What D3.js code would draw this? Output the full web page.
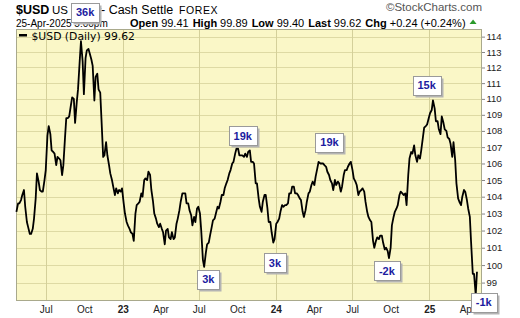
<!DOCTYPE html>
<html><head><meta charset="utf-8">
<script src="https://cdn.jsdelivr.net/npm/d3@7"></script>
<style>body{margin:0;background:#fff;}svg{display:block;}</style>
</head><body>
<svg id="chart" width="520" height="318"></svg>
<script>
// ---------- DATA ----------
const dates = [
"2022-04-22","2022-04-26","2022-04-29",
"2022-05-03","2022-05-06","2022-05-10","2022-05-13","2022-05-17","2022-05-20","2022-05-24","2022-05-27","2022-05-31",
"2022-06-03","2022-06-07","2022-06-10","2022-06-14","2022-06-17","2022-06-21","2022-06-24","2022-06-28",
"2022-07-01","2022-07-05","2022-07-08","2022-07-12","2022-07-15","2022-07-19","2022-07-22","2022-07-26","2022-07-29",
"2022-08-02","2022-08-05","2022-08-09","2022-08-12","2022-08-16","2022-08-19","2022-08-23","2022-08-26","2022-08-30",
"2022-09-02","2022-09-06","2022-09-09","2022-09-13","2022-09-16","2022-09-20","2022-09-23","2022-09-27","2022-09-30",
"2022-10-04","2022-10-07","2022-10-11","2022-10-14","2022-10-18","2022-10-21","2022-10-25","2022-10-28",
"2022-11-01","2022-11-04","2022-11-08","2022-11-11","2022-11-15","2022-11-18","2022-11-22","2022-11-25","2022-11-29",
"2022-12-02","2022-12-06","2022-12-09","2022-12-13","2022-12-16","2022-12-20","2022-12-23","2022-12-27","2022-12-30",
"2023-01-03","2023-01-06","2023-01-10","2023-01-13","2023-01-17","2023-01-20","2023-01-24","2023-01-27","2023-01-31",
"2023-02-03","2023-02-07","2023-02-10","2023-02-14","2023-02-17","2023-02-21","2023-02-24","2023-02-28",
"2023-03-03","2023-03-07","2023-03-10","2023-03-14","2023-03-17","2023-03-21","2023-03-24","2023-03-28","2023-03-31",
"2023-04-04","2023-04-07","2023-04-11","2023-04-14","2023-04-18","2023-04-21","2023-04-25","2023-04-28",
"2023-05-02","2023-05-05","2023-05-09","2023-05-12","2023-05-16","2023-05-19","2023-05-23","2023-05-26","2023-05-30",
"2023-06-02","2023-06-06","2023-06-09","2023-06-13","2023-06-16","2023-06-20","2023-06-23","2023-06-27","2023-06-30",
"2023-07-04","2023-07-07","2023-07-11","2023-07-14","2023-07-18","2023-07-21","2023-07-25","2023-07-28",
"2023-08-01","2023-08-04","2023-08-08","2023-08-11","2023-08-15","2023-08-18","2023-08-22","2023-08-25","2023-08-29",
"2023-09-01","2023-09-05","2023-09-08","2023-09-12","2023-09-15","2023-09-19","2023-09-22","2023-09-26","2023-09-29",
"2023-10-03","2023-10-06","2023-10-10","2023-10-13","2023-10-17","2023-10-20","2023-10-24","2023-10-27","2023-10-31",
"2023-11-03","2023-11-07","2023-11-10","2023-11-14","2023-11-17","2023-11-21","2023-11-24","2023-11-28",
"2023-12-01","2023-12-05","2023-12-08","2023-12-12","2023-12-15","2023-12-19","2023-12-22","2023-12-26","2023-12-29",
"2024-01-02","2024-01-05","2024-01-09","2024-01-12","2024-01-16","2024-01-19","2024-01-23","2024-01-26","2024-01-30",
"2024-02-02","2024-02-06","2024-02-09","2024-02-13","2024-02-16","2024-02-20","2024-02-23","2024-02-27",
"2024-03-01","2024-03-05","2024-03-08","2024-03-12","2024-03-15","2024-03-19","2024-03-22","2024-03-26","2024-03-29",
"2024-04-02","2024-04-05","2024-04-09","2024-04-12","2024-04-16","2024-04-19","2024-04-23","2024-04-26","2024-04-30",
"2024-05-03","2024-05-07","2024-05-10","2024-05-14","2024-05-17","2024-05-21","2024-05-24","2024-05-28","2024-05-31",
"2024-06-04","2024-06-07","2024-06-11","2024-06-14","2024-06-18","2024-06-21","2024-06-25","2024-06-28",
"2024-07-02","2024-07-05","2024-07-09","2024-07-12","2024-07-16","2024-07-19","2024-07-23","2024-07-26","2024-07-30",
"2024-08-02","2024-08-06","2024-08-09","2024-08-13","2024-08-16","2024-08-20","2024-08-23","2024-08-27","2024-08-30",
"2024-09-03","2024-09-06","2024-09-10","2024-09-13","2024-09-17","2024-09-20","2024-09-24","2024-09-27",
"2024-10-01","2024-10-04","2024-10-08","2024-10-11","2024-10-15","2024-10-18","2024-10-22","2024-10-25","2024-10-29",
"2024-11-01","2024-11-05","2024-11-08","2024-11-12","2024-11-15","2024-11-19","2024-11-22","2024-11-26","2024-11-29",
"2024-12-03","2024-12-06","2024-12-10","2024-12-13","2024-12-17","2024-12-20","2024-12-24","2024-12-27","2024-12-31",
"2025-01-03","2025-01-07","2025-01-10","2025-01-14","2025-01-17","2025-01-21","2025-01-24","2025-01-28","2025-01-31",
"2025-02-04","2025-02-07","2025-02-11","2025-02-14","2025-02-18","2025-02-21","2025-02-25","2025-02-28",
"2025-03-04","2025-03-07","2025-03-11","2025-03-14","2025-03-18","2025-03-21","2025-03-25","2025-03-28",
"2025-04-01","2025-04-04","2025-04-08","2025-04-11","2025-04-15","2025-04-18","2025-04-22","2025-04-25"
];
const closes = [
103.1,103.6,103.6,
103.8,104.1,104.4,103.4,102.5,102.2,101.8,101.8,102.1,
102.7,103.9,105.4,104.9,104.4,104.3,104.3,105.0,
105.6,107.7,108.3,107.8,106.8,106.7,106.6,105.9,106.4,
106.3,106.2,105.3,105.9,107.6,108.8,108.8,108.9,109.6,
110.1,110.0,108.5,109.8,110.6,112.4,113.7,112.4,110.3,
112.6,113.1,113.2,112.9,112.5,112.1,109.9,111.4,
111.6,110.6,110.4,108.7,106.4,106.5,107.3,106.5,105.9,
105.4,105.0,104.6,104.1,104.5,104.2,104.4,104.3,104.5,
103.6,103.0,102.5,102.3,102.1,101.9,101.8,101.4,103.0,
103.5,103.6,103.7,104.2,104.0,105.0,105.1,105.0,
105.5,105.3,104.4,103.7,103.0,102.7,102.4,102.2,102.4,
102.1,101.9,101.2,102.0,102.1,101.6,101.5,101.9,
101.5,101.6,102.4,102.7,103.2,103.7,104.2,104.2,104.2,
103.6,103.6,103.2,102.9,102.3,102.8,102.5,103.3,103.4,
103.0,102.0,100.3,99.9,100.7,101.2,101.3,101.7,
102.2,102.6,102.7,103.0,103.4,103.3,103.7,104.1,104.1,
104.5,104.8,105.0,105.4,105.6,106.0,106.1,106.6,106.9,
106.9,106.5,106.5,106.5,106.4,106.6,106.4,106.7,106.8,
106.1,106.1,106.0,104.8,104.8,103.9,103.4,103.1,
103.7,104.1,104.1,103.3,102.5,102.5,101.9,101.3,101.5,
102.4,102.5,102.7,103.1,103.5,103.4,103.5,103.5,103.6,
104.2,104.2,104.6,104.6,104.2,104.2,104.1,103.9,
103.8,103.1,102.8,103.2,103.7,104.2,104.3,104.7,104.9,
104.7,105.2,105.7,106.1,106.0,106.0,106.0,105.9,105.8,
105.5,105.3,105.0,104.8,104.4,105.0,104.7,104.9,104.8,
104.3,104.6,105.3,105.6,105.6,105.8,106.0,106.1,
105.6,105.1,104.9,104.7,104.1,104.3,104.4,104.5,104.3,
103.7,103.1,102.8,102.6,102.5,101.4,101.0,101.4,101.6,
101.5,101.7,101.7,101.3,100.9,101.0,100.8,100.4,
101.0,102.3,102.8,103.1,103.3,103.5,104.1,104.3,104.2,
104.1,104.2,103.5,105.3,106.3,106.7,106.6,107.1,106.5,
106.1,106.5,106.3,106.8,107.6,108.2,108.3,108.4,108.8,
109.1,109.3,109.9,109.4,108.6,108.6,108.1,107.8,108.9,
108.5,108.1,108.0,107.6,107.5,107.2,106.4,107.3,
106.2,104.8,103.9,103.7,103.5,104.0,104.4,104.3,
103.8,103.3,102.8,101.3,99.5,99.5,98.3,99.62
];
const priceTicks = [98,99,100,101,102,103,104,105,106,107,108,109,110,111,112,113,114];
const monthTickDates = ["2022-07-01","2022-10-01","2023-01-01","2023-04-01","2023-07-01","2023-10-01",
                        "2024-01-01","2024-04-01","2024-07-01","2024-10-01","2025-01-01","2025-04-01"];
const monthTickLabels = ["Jul","Oct","23","Apr","Jul","Oct","24","Apr","Jul","Oct","25","Apr"];
const gridDates = ["2022-07-01","2023-01-01","2023-07-01","2024-01-01","2024-07-01","2025-01-01"];
const annDates  = ["2022-10-03","2023-10-14","2023-07-24","2023-12-30","2024-05-08","2024-09-22","2024-12-26","2025-05-11"];
const annLevels = [115.6,107.7,99.18,100.13,107.3,99.67,110.87,97.9];
const annLabels = ["36k","19k","3k","3k","19k","-2k","15k","-1k"];
const headerValues = {open:"99.41", high:"99.89", low:"99.40", last:"99.62", chg:"+0.24", pct:"(+0.24%)"};

// ---------- LAYOUT ----------
const W = 520, H = 318;
const L = 16, R = 482, T = 29, B = 301;
const parse = d3.utcParse("%Y-%m-%d");
const svg = d3.select("#chart");
const F = "'Liberation Sans', Arial, Helvetica, sans-serif";

const x = d3.scaleUtc().domain([parse("2022-04-21"), parse("2025-05-07")]).range([L, R]);
const y = d3.scaleLog().domain([97.96, 114.5]).range([B, T]);

svg.append("rect").attr("width", W).attr("height", H).attr("fill", "#fff");
svg.append("rect").attr("x", L).attr("y", T).attr("width", R - L).attr("height", B - T).attr("fill", "#faf7c7");

// grid
const snap = v => Math.round(v) + 0.5;
svg.append("g").selectAll("line").data(priceTicks).join("line")
  .attr("x1", L).attr("x2", R).attr("y1", d => snap(y(d))).attr("y2", d => snap(y(d)))
  .attr("stroke", "#dedaa4").attr("stroke-width", 1);
svg.append("g").selectAll("line").data(gridDates).join("line")
  .attr("y1", T).attr("y2", B).attr("x1", d => snap(x(parse(d)))).attr("x2", d => snap(x(parse(d))))
  .attr("stroke", "#d4d09a").attr("stroke-width", 1);

// border
svg.append("rect").attr("x", L + 0.5).attr("y", T + 0.5).attr("width", R - L - 1).attr("height", B - T - 1)
  .attr("fill", "none").attr("stroke", "#a9a98c");

// price line
const pts = dates.map((d, i) => ({d: parse(d), v: closes[i]})).filter(p => p.v != null);
svg.append("path").datum(pts)
  .attr("d", d3.line().x(p => x(p.d)).y(p => y(p.v)))
  .attr("fill", "none").attr("stroke", "#000").attr("stroke-width", 1.8).attr("stroke-linejoin", "round");

// right axis
const ay = svg.append("g").attr("transform", `translate(${R},0)`)
  .call(d3.axisRight(y).tickValues(priceTicks).tickFormat(d3.format("d")).tickSize(3).tickPadding(1.5));
ay.select(".domain").remove();
ay.selectAll("line").attr("stroke", "#888");
ay.selectAll("text").attr("font-family", F).attr("font-size", 9.5).attr("fill", "#222");

// bottom axis
const ax = svg.append("g").attr("transform", `translate(0,${B})`)
  .call(d3.axisBottom(x).tickValues(monthTickDates.map(parse)).tickSize(0).tickPadding(5)
    .tickFormat((d, i) => monthTickLabels[i]));
ax.select(".domain").remove();
ax.selectAll("text").attr("font-family", F).attr("font-size", 10).attr("fill", "#222")
  .attr("font-weight", (d, i) => /^\d+$/.test(monthTickLabels[i]) ? "bold" : "normal");

// header line 1
svg.append("text").attr("x", 16).attr("y", 14).attr("font-family", F).attr("font-size", 12.5)
  .attr("font-weight", "bold").text("$USD");
svg.append("text").attr("x", 52).attr("y", 14).attr("font-family", F).attr("font-size", 11.5)
  .text("US Dollar");
svg.append("text").attr("x", 101).attr("y", 14).attr("font-family", F).attr("font-size", 12.5)
  .text("- Cash Settle");
svg.append("text").attr("x", 179).attr("y", 14).attr("font-family", F).attr("font-size", 10.5)
  .attr("letter-spacing", 0.6).text("FOREX");

// header line 2
svg.append("text").attr("x", 16).attr("y", 26.5).attr("font-family", F).attr("font-size", 10)
  .text("25-Apr-2025 5:00pm");
const h2 = svg.append("text").attr("x", 130).attr("y", 26.5).attr("font-family", F).attr("font-size", 11).attr("fill", "#000");
[["Open", headerValues.open], ["High", headerValues.high], ["Low", headerValues.low], ["Last", headerValues.last]]
  .forEach(([k, v], i) => {
    h2.append("tspan").attr("font-weight", "bold").attr("dx", i ? 4 : 0).text(k);
    h2.append("tspan").attr("dx", 3).text(v);
  });
h2.append("tspan").attr("font-weight", "bold").attr("dx", 4).text("Chg");
h2.append("tspan").attr("dx", 3).text(headerValues.chg + " " + headerValues.pct);
const hb = h2.node().getBBox();
const tx = hb.x + hb.width + 4;
svg.append("path").attr("d", `M${tx},24 L${tx + 7},24 L${tx + 3.5},19.5 Z`).attr("fill", "#2a9a2a");

svg.append("text").attr("x", 482).attr("y", 11).attr("text-anchor", "end").attr("font-family", F)
  .attr("font-size", 11.5).attr("fill", "#555").text("\u00A9StockCharts.com");

// legend
svg.append("rect").attr("x", 19).attr("y", 34).attr("width", 8).attr("height", 2.5).attr("fill", "#000");
svg.append("text").attr("x", 31.5).attr("y", 39.5).attr("font-family", "'DejaVu Sans', Verdana, sans-serif")
  .attr("font-size", 10.8).attr("fill", "#000").text("$USD (Daily) " + closes[closes.length - 1].toFixed(2));

// annotation boxes
annLabels.forEach((lab, i) => {
  const cx = x(parse(annDates[i])), cy = y(annLevels[i]);
  const g = svg.append("g");
  const t = g.append("text").attr("x", cx).attr("y", cy + 4).attr("text-anchor", "middle")
    .attr("font-family", F).attr("font-size", 11).attr("font-weight", "bold").attr("fill", "#1c1ca0").text(lab);
  const w = Math.round(t.node().getComputedTextLength() + 10), h = 19;
  const bx = Math.round(cx - w / 2) + 0.5, by = Math.round(cy - h / 2) + 0.5;
  g.insert("rect", "text").attr("x", bx + 2).attr("y", by + 2).attr("width", w).attr("height", h).attr("fill", "#b4b4b4");
  g.insert("rect", "text").attr("x", bx).attr("y", by).attr("width", w).attr("height", h)
    .attr("fill", "#fff").attr("stroke", "#9a9a9a");
});
</script>
</body></html>
